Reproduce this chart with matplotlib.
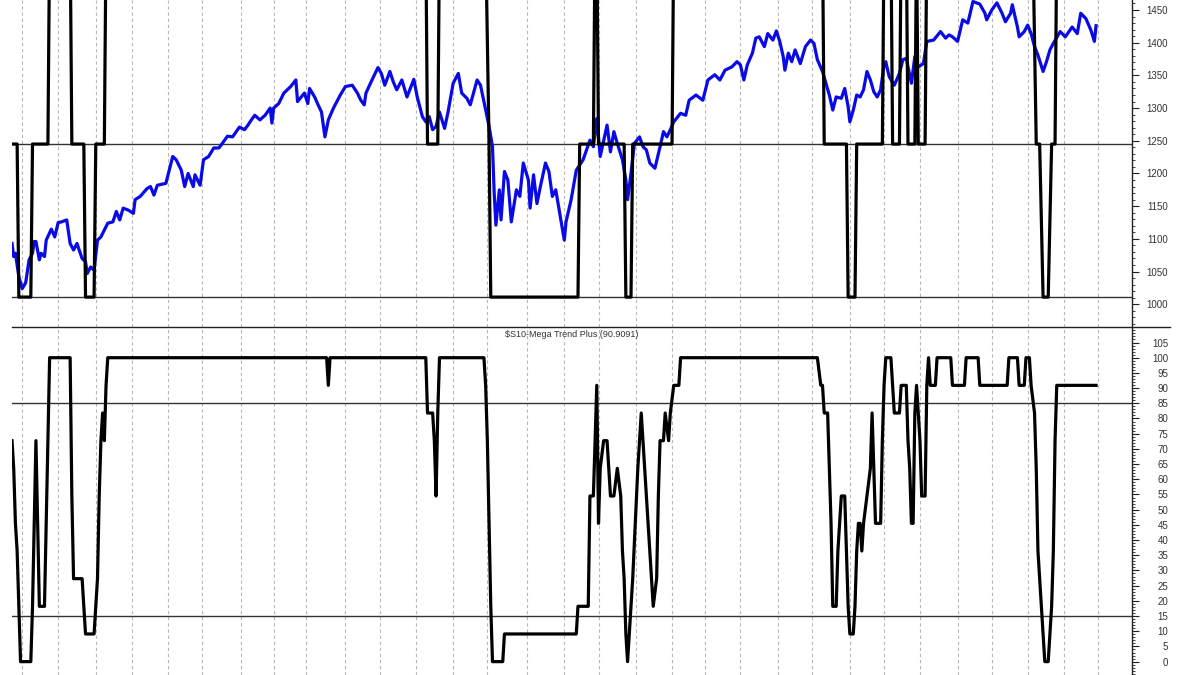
import numpy as np
import matplotlib.pyplot as plt
from matplotlib.ticker import MultipleLocator
from matplotlib.lines import Line2D

plt.rcParams['font.family'] = ['Liberation Sans', 'DejaVu Sans']

# price (trading-day index, close)
price_bar = [0, 1, 2, 4, 6, 8, 10, 12, 13, 14, 16, 17, 19, 20, 23, 25, 27, 29, 32, 34,
             36, 38, 41, 43, 44, 46, 48, 50, 52, 56, 59, 61, 63, 65, 68, 71, 72, 75, 79, 81,
             83, 85, 90, 94, 96, 99, 101, 103, 106, 107, 110, 112, 115, 118, 121, 123, 126, 129, 133, 136,
             138, 140, 142, 145, 148, 151, 152, 153, 156, 159, 163, 166, 167, 171, 173, 174, 177, 179, 181, 183,
             185, 188, 192, 195, 199, 202, 204, 206, 207, 210, 214, 216, 218, 221, 223, 225, 228, 231, 235, 237,
             240, 242, 244, 246, 248, 250, 253, 255, 258, 261, 263, 266, 268, 272, 274, 277, 279, 281, 282, 283,
             285, 286, 288, 290, 292, 295, 297, 299, 302, 303, 305, 307, 309, 312, 314, 316, 318, 320, 323, 324,
             327, 330, 334, 338, 340, 342, 344, 348, 350, 352, 354, 357, 359, 360, 362, 364, 367, 369, 371, 373,
             376, 379, 381, 383, 385, 387, 391, 394, 396, 400, 404, 407, 411, 414, 417, 421, 424, 426, 428, 430,
             433, 435, 437, 440, 442, 445, 447, 449, 451, 452, 454, 456, 458, 461, 464, 467, 469, 471, 474, 476,
             478, 480, 482, 485, 487, 489, 490, 492, 494, 496, 498, 500, 502, 504, 506, 508, 510, 511, 513, 516,
             519, 521, 523, 526, 528, 530, 533, 535, 539, 543, 546, 548, 550, 553, 556, 559, 562, 566, 569, 570,
             573, 576, 579, 581, 584, 585, 588, 589, 592, 594, 596, 598, 600, 603, 605, 607, 609, 613, 616, 620,
             623, 625, 628, 631, 633, 634]
price_val = [1093, 1073, 1078, 1042, 1024, 1033, 1068, 1078, 1096, 1096, 1068, 1078, 1073, 1098, 1115, 1103, 1125, 1126, 1129, 1093,
             1083, 1093, 1070, 1065, 1047, 1057, 1052, 1098, 1103, 1124, 1126, 1142, 1129, 1147, 1144, 1139, 1160, 1165, 1177, 1180,
             1167, 1182, 1185, 1226, 1221, 1205, 1180, 1200, 1180, 1198, 1182, 1221, 1226, 1239, 1239, 1246, 1257, 1256, 1271, 1267,
             1274, 1282, 1289, 1282, 1289, 1300, 1277, 1300, 1307, 1323, 1333, 1343, 1310, 1323, 1307, 1330, 1317, 1305, 1294, 1256,
             1282, 1300, 1320, 1333, 1335, 1323, 1312, 1305, 1323, 1340, 1362, 1353, 1335, 1356, 1340, 1328, 1343, 1317, 1344, 1317,
             1287, 1279, 1287, 1267, 1272, 1294, 1269, 1294, 1338, 1353, 1323, 1315, 1305, 1343, 1335, 1297, 1272, 1241, 1170, 1121,
             1175, 1129, 1203, 1190, 1126, 1175, 1165, 1216, 1190, 1147, 1198, 1154, 1180, 1216, 1203, 1165, 1175, 1144, 1098, 1126,
             1160, 1205, 1221, 1251, 1241, 1284, 1226, 1274, 1233, 1264, 1246, 1221, 1190, 1160, 1200, 1246, 1256, 1241, 1236, 1216,
             1208, 1241, 1264, 1256, 1267, 1279, 1292, 1289, 1312, 1320, 1312, 1343, 1351, 1343, 1358, 1363, 1371, 1366, 1343, 1366,
             1384, 1407, 1409, 1394, 1414, 1404, 1418, 1402, 1379, 1358, 1384, 1371, 1389, 1368, 1394, 1404, 1399, 1374, 1356, 1338,
             1320, 1297, 1317, 1315, 1330, 1302, 1279, 1297, 1320, 1317, 1328, 1356, 1343, 1325, 1317, 1328, 1366, 1371, 1348, 1335,
             1353, 1374, 1376, 1338, 1379, 1363, 1368, 1402, 1404, 1417, 1407, 1412, 1409, 1402, 1435, 1430, 1463, 1459, 1445, 1435,
             1450, 1461, 1445, 1432, 1445, 1458, 1424, 1409, 1417, 1427, 1414, 1394, 1381, 1356, 1371, 1389, 1399, 1417, 1409, 1424,
             1414, 1445, 1437, 1419, 1402, 1426]

# signal overlay in the price pane (high state runs off the top)
HI, MID, LO = 1560, 1245, 1011
sig_bar = [0, 3, 4, 11, 12, 21, 22, 34, 35, 42, 43, 48, 49, 54, 55, 242, 243, 249, 250, 277,
           279, 280, 331, 332, 340, 341, 342, 343, 358, 359, 362, 363, 386, 387, 474, 475, 488, 489, 493, 494,
           509, 510, 514, 515, 519, 520, 523, 524, 528, 529, 530, 534, 535, 597, 599, 601, 603, 606, 608, 610,
           611, 634]
sig_val = [MID, MID, LO, LO, MID, MID, HI, HI, MID, MID, LO, LO, MID, MID, HI, HI, MID, MID, HI, HI,
           MID, LO, LO, MID, MID, HI, HI, MID, MID, LO, LO, MID, MID, HI, HI, MID, MID, LO, LO, MID,
           MID, HI, HI, MID, MID, HI, HI, MID, MID, HI, MID, MID, HI, HI, MID, MID, LO, LO, MID, MID,
           HI, HI]

# $S10-Mega Trend Plus
ind_bar = [0, 1, 2, 3, 4, 5, 11, 12, 13, 14, 15, 16, 19, 20, 21, 22, 34, 35, 36, 41,
           42, 43, 48, 50, 51, 52, 53, 54, 55, 56, 184, 185, 186, 242, 243, 246, 247, 248, 249, 250,
           276, 277, 278, 279, 280, 281, 287, 288, 330, 331, 337, 338, 340, 341, 342, 343, 344, 346, 348, 350,
           352, 354, 356, 357, 358, 359, 360, 361, 363, 366, 368, 370, 373, 375, 377, 378, 379, 381, 382, 384,
           385, 387, 390, 391, 471, 473, 474, 475, 477, 478, 479, 480, 482, 483, 484, 485, 487, 488, 489, 490,
           492, 493, 494, 495, 496, 497, 498, 500, 502, 503, 504, 505, 508, 509, 510, 511, 514, 515, 516, 519,
           520, 523, 524, 525, 526, 527, 528, 529, 530, 531, 532, 534, 535, 536, 537, 540, 541, 549, 550, 557,
           558, 565, 566, 582, 583, 588, 589, 592, 593, 595, 596, 598, 599, 600, 601, 602, 603, 604, 606, 607,
           608, 609, 610, 611, 634]
ind_val = [72.7, 63.6, 45.5, 36.4, 18.2, 0, 0, 18.2, 45.5, 72.7, 45.5, 18.2, 18.2, 45.5, 72.7, 100, 100, 54.5, 27.3, 27.3,
           18.2, 9.1, 9.1, 27.3, 54.5, 72.7, 81.8, 72.7, 90.9, 100, 100, 90.9, 100, 100, 81.8, 81.8, 72.7, 54.5, 81.8, 100,
           100, 90.9, 72.7, 45.5, 18.2, 0, 0, 9.1, 9.1, 18.2, 18.2, 54.5, 54.5, 72.7, 90.9, 45.5, 63.6, 72.7, 72.7, 54.5,
           54.5, 63.6, 54.5, 36.4, 27.3, 9.1, 0, 9.1, 27.3, 63.6, 81.8, 63.6, 36.4, 18.2, 27.3, 54.5, 72.7, 72.7, 81.8, 72.7,
           81.8, 90.9, 90.9, 100, 100, 90.9, 90.9, 81.8, 81.8, 63.6, 45.5, 18.2, 18.2, 36.4, 45.5, 54.5, 54.5, 36.4, 18.2, 9.1,
           9.1, 18.2, 36.4, 45.5, 45.5, 36.4, 45.5, 54.5, 63.6, 81.8, 63.6, 45.5, 45.5, 72.7, 90.9, 100, 100, 90.9, 81.8, 81.8,
           90.9, 90.9, 72.7, 63.6, 45.5, 45.5, 81.8, 90.9, 81.8, 72.7, 54.5, 54.5, 90.9, 100, 90.9, 90.9, 100, 100, 90.9, 90.9,
           100, 100, 90.9, 90.9, 100, 100, 90.9, 90.9, 100, 100, 90.9, 81.8, 63.6, 36.4, 27.3, 18.2, 9.1, 0, 0, 9.1,
           18.2, 36.4, 72.7, 90.9, 90.9]

# month boundaries (trading-day index)
month_starts = [6, 27, 49, 70, 91, 111, 134, 153, 172, 195, 215, 236, 258, 278, 301, 323, 343, 365, 386, 405,
                426, 448, 468, 490, 510, 531, 553, 573, 594, 615, 635]

upper_band, lower_band = 85, 15
title = "\\$S10-Mega Trend Plus (90.9091)"

fig = plt.figure(figsize=(12, 6.75), dpi=100)
ax1 = fig.add_axes([0.01, 0.516, 0.93333, 0.484])
ax2 = fig.add_axes([0.01, 0.0, 0.93333, 0.516])

for ax in (ax1, ax2):
    ax.set_xlim(0, 655)
    for b in month_starts:
        ax.axvline(b, color="#b8b8b8", lw=0.8, ls=(0, (3, 2.5)), zorder=1)
    for s in ("left", "top", "bottom"):
        ax.spines[s].set_visible(False)
    ax.spines["right"].set_color("#222222")
    ax.spines["right"].set_linewidth(1)
    ax.yaxis.tick_right()
    ax.tick_params(axis="x", bottom=False, labelbottom=False)
    ax.tick_params(axis="y", which="major", length=5, width=0.8, color="#222222",
                   labelsize=7, labelcolor="#333333", pad=21)
    ax.tick_params(axis="y", which="minor", length=2, width=0.6, color="#222222")

ax2.spines["top"].set_visible(True)
ax2.spines["top"].set_color("#222222")
ax2.spines["top"].set_linewidth(1)

# top pane
ax1.set_ylim(965.7, 1465.3)
ax1.set_yticks(np.arange(1000, 1451, 50))
ax1.yaxis.set_minor_locator(MultipleLocator(10))
ax1.axhline(MID, color="#333333", lw=1, zorder=2)
ax1.axhline(LO, color="#333333", lw=1, zorder=2)
ax1.plot(price_bar, price_val, color="#0a0ae6", lw=2.3, zorder=3)
ax1.plot(sig_bar, sig_val, color="black", lw=2.3, zorder=4)

# bottom pane
ax2.set_ylim(-4.4, 110.2)
ax2.set_yticks(np.arange(0, 106, 5))
ax2.yaxis.set_minor_locator(MultipleLocator(1))
ax2.axhline(upper_band, color="#333333", lw=1, zorder=2)
ax2.axhline(lower_band, color="#333333", lw=1, zorder=2)
ax2.plot(ind_bar, ind_val, color="black", lw=2.3, zorder=4)
ax2.text(0.5, 0.978, title, transform=ax2.transAxes, ha="center", va="center",
         fontsize=6.5, color="#333333")

for ax in (ax1, ax2):
    plt.setp(ax.yaxis.get_majorticklabels(), ha="right")

fig.add_artist(Line2D([0.94333, 0.975], [0.516, 0.516], color="#222222", lw=1))

fig.savefig("out.png", dpi=100, facecolor="white")
